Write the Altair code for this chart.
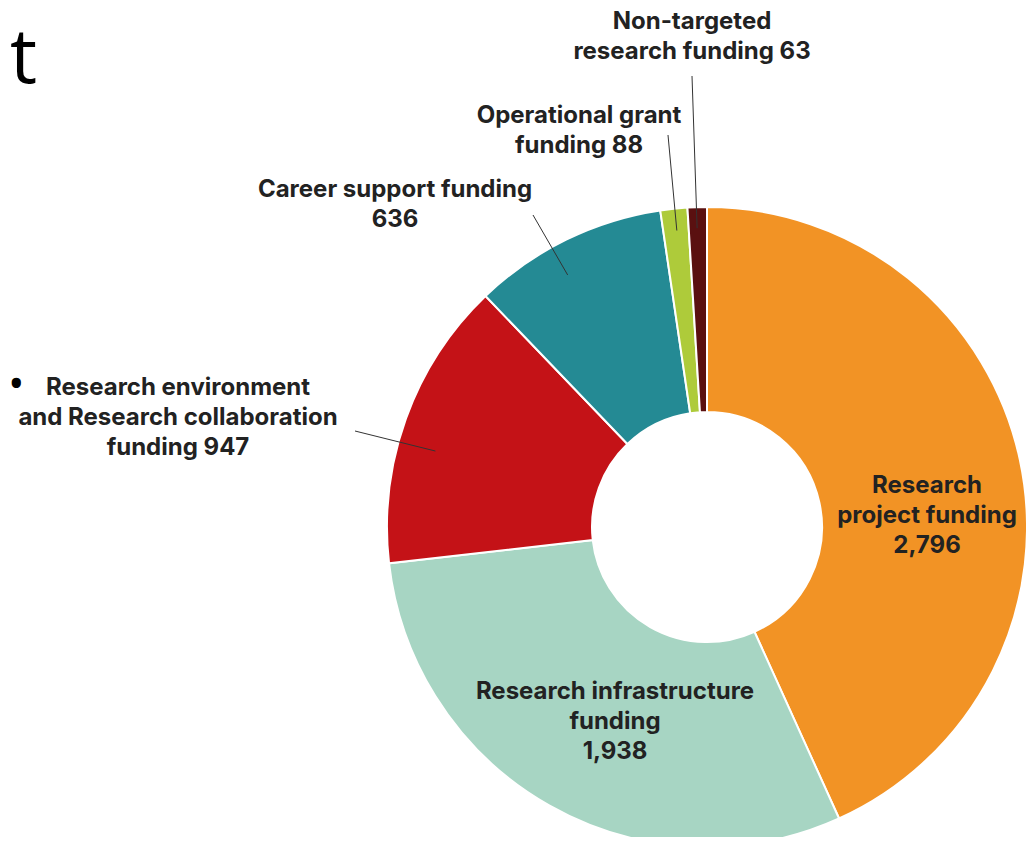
import math
import altair as alt
import pandas as pd

# ---- data ----
categories = [
    "Research project funding",
    "Research infrastructure funding",
    "Research environment and Research collaboration funding",
    "Career support funding",
    "Operational grant funding",
    "Non-targeted research funding",
]
values = [2796, 1938, 947, 636, 88, 63]
label_texts = [
    "Research\nproject funding\n2,796",
    "Research infrastructure\nfunding\n1,938",
    "Research environment\nand Research collaboration\nfunding 947",
    "Career support funding\n636",
    "Operational grant\nfunding 88",
    "Non-targeted\nresearch funding 63",
]
colors = ["#F29325", "#A7D5C3", "#C41217", "#248A94", "#AECB3A", "#5A1010"]

# ---- layout (chart pixel coordinates) ----
W, H = 1018, 829
CX, CY = 699, 519
R_OUT, R_IN = 320, 115
label_x = [919, 607, 170, 387, 571, 684]
label_y = [478, 684, 380, 182, 108, 14]          # first-line centres
leader_out_x = [None, None, 347, 525, 660, 684]
leader_out_y = [None, None, 423, 207, 127, 68]
leader_frac = [None, None, 0.42, 0.42, 0.53, 0.46]   # position within slice span
leader_r = [None, None, 282, 288, 298, 299]

total = sum(values)
starts = []
cum = 0
for v in values:
    starts.append(cum)
    cum += v

df = pd.DataFrame({"category": categories, "value": values, "idx": list(range(len(values)))})
lab = pd.DataFrame({"label": label_texts, "lx": label_x, "ly": label_y})

rows = []
for i, v in enumerate(values):
    if leader_out_x[i] is None:
        continue
    a = (starts[i] + leader_frac[i] * v) / total * 2 * math.pi
    rows.append({
        "x1": leader_out_x[i], "y1": leader_out_y[i],
        "x2": CX + leader_r[i] * math.sin(a), "y2": CY - leader_r[i] * math.cos(a),
    })
lead = pd.DataFrame(rows)

arcs = alt.Chart(df).mark_arc(
    innerRadius=R_IN, outerRadius=R_OUT, stroke="white", strokeWidth=2
).encode(
    theta=alt.Theta("value:Q", stack=True),
    color=alt.Color("category:N", scale=alt.Scale(domain=categories, range=colors), legend=None),
    order=alt.Order("idx:Q"),
    x=alt.value(CX),
    y=alt.value(CY),
)

leaders = alt.Chart(lead).mark_rule(color="#333333", strokeWidth=1).encode(
    x=alt.X("x1:Q", scale=None),
    y=alt.Y("y1:Q", scale=None),
    x2="x2:Q",
    y2="y2:Q",
)

labels = alt.Chart(lab).mark_text(
    font="Inter", fontSize=24, fontWeight="bold", color="#222222",
    lineBreak="\n", lineHeight=30, align="center", baseline="middle",
).encode(
    x=alt.X("lx:Q", scale=None),
    y=alt.Y("ly:Q", scale=None),
    text="label:N",
)

title_frag = alt.Chart(pd.DataFrame({"t": ["t"]})).mark_text(
    font="Open Sans", fontSize=76, color="#000000", align="left", baseline="alphabetic"
).encode(x=alt.value(2), y=alt.value(75), text="t:N")

bullet = alt.Chart(pd.DataFrame({"t": ["•"]})).mark_text(
    font="Open Sans", fontSize=44, color="#000000", align="left", baseline="middle"
).encode(x=alt.value(0), y=alt.value(378), text="t:N")

chart = alt.layer(arcs, leaders, labels, title_frag, bullet).properties(
    width=W, height=H, padding=0, autosize=alt.AutoSizeParams(type="none")
).configure_view(stroke=None)

chart.save("out.html", embed_options={"renderer": "svg", "actions": False})
